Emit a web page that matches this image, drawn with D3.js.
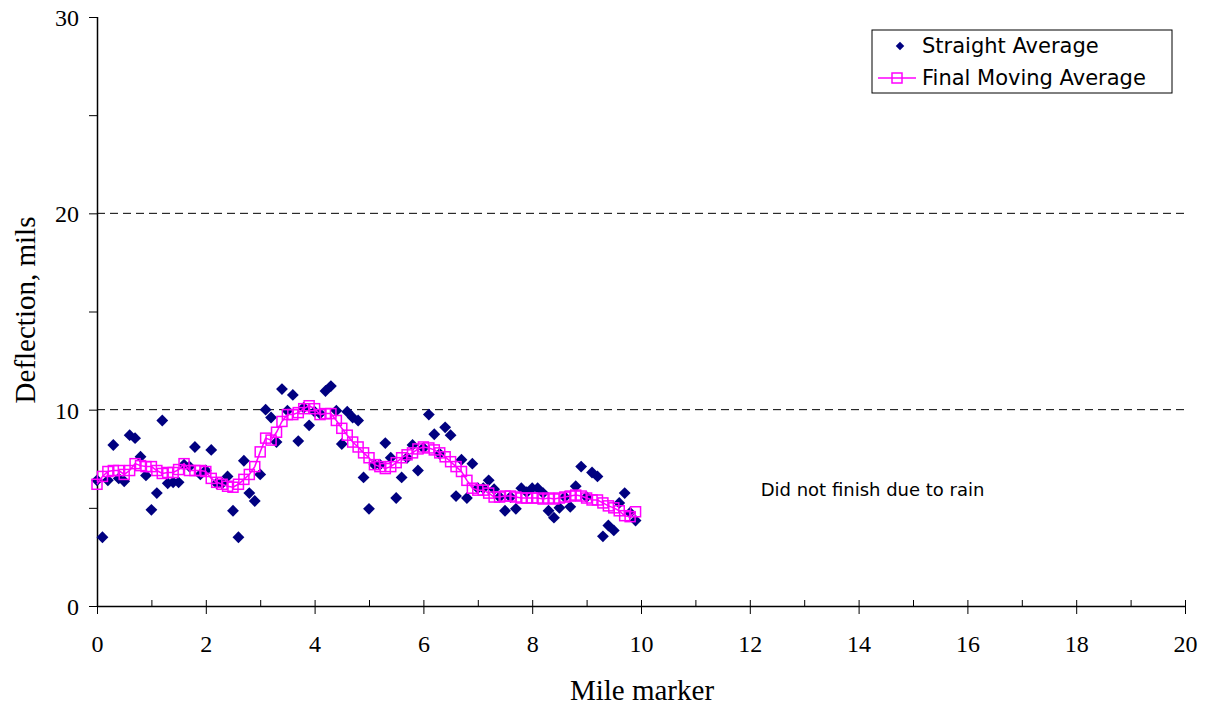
<!DOCTYPE html>
<html>
<head>
<meta charset="utf-8">
<script src="https://cdn.jsdelivr.net/npm/d3@7"></script>
<style>
  body { margin: 0; background: #fff; }
  .tick text { font-family: "Liberation Serif", "Times New Roman", serif; }
</style>
</head>
<body>
<div id="chart"></div>
<script>
// mile markers, every 0.1 mile from 0.0 to 9.9
var miles = d3.range(0, 100).map(function(i) { return i / 10; });

// deflection readings (mils)
var straightAverage = [
  6.4, 3.5, 6.4, 8.2, 6.5, 6.35, 8.7, 8.55, 7.6, 6.65,
  4.9, 5.75, 9.45, 6.25, 6.3, 6.3, 7.2, 7.1, 8.1, 6.7,
  6.9, 7.95, 6.25, 6.25, 6.6, 4.85, 3.5, 7.4, 5.75, 5.35,
  6.7, 10.0, 9.6, 8.35, 11.05, 9.95, 10.75, 8.4, 10.1, 9.2,
  9.9, 9.8, 10.95, 11.2, 9.95, 8.25, 9.9, 9.6, 9.45, 6.55,
  4.95, 7.2, 7.2, 8.3, 7.55, 5.5, 6.55, 7.55, 8.2, 6.9,
  8.05, 9.75, 8.75, 7.75, 9.1, 8.7, 5.6, 7.45, 5.5, 7.25,
  6.0, 6.0, 6.4, 5.95, 5.55, 4.85, 5.55, 4.95, 6.0, 5.8,
  6.0, 6.0, 5.75, 4.85, 4.5, 5.0, 5.55, 5.05, 6.1, 7.1,
  5.55, 6.8, 6.6, 3.55, 4.1, 3.85, 5.25, 5.75, 4.75, 4.35
];

var finalMovingAverage = [
  6.2, 6.6, 6.85, 6.9, 6.9, 6.7, 6.9, 7.25, 7.15, 7.1,
  7.1, 6.9, 6.75, 6.8, 6.8, 6.95, 7.25, 6.9, 6.9, 6.9,
  6.85, 6.5, 6.3, 6.2, 6.1, 6.05, 6.2, 6.45, 6.7, 7.1,
  7.85, 8.55, 8.45, 8.85, 9.4, 9.75, 9.75, 9.85, 10.05, 10.2,
  10.05, 9.75, 9.8, 9.8, 9.45, 9.05, 8.7, 8.35, 8.1, 7.8,
  7.55, 7.2, 7.1, 7.0, 7.1, 7.3, 7.55, 7.7, 7.8, 8.0,
  8.1, 8.05, 7.95, 7.8, 7.6, 7.35, 7.1, 6.85, 6.4, 6.0,
  5.9, 5.9, 5.75, 5.55, 5.55, 5.6, 5.6, 5.55, 5.5, 5.5,
  5.5, 5.5, 5.45, 5.5, 5.45, 5.5, 5.55, 5.6, 5.65, 5.6,
  5.5, 5.4, 5.4, 5.25, 5.1, 5.0, 4.85, 4.6, 4.55, 4.8
];

var xTicks = [0, 2, 4, 6, 8, 10, 12, 14, 16, 18, 20];
var yTicks = [0, 10, 20, 30];
var seriesNames = ["Straight Average", "Final Moving Average"];

var margin = {top: 17, right: 28, bottom: 102, left: 97},
    width = 1213 - margin.left - margin.right,
    height = 708 - margin.top - margin.bottom;

var svg = d3.select("#chart").append("svg")
    .attr("width", 1213)
    .attr("height", 708)
  .append("g")
    .attr("transform", "translate(" + margin.left + "," + margin.top + ")");

var x = d3.scaleLinear().domain([0, 20]).range([0, width]);
var y = d3.scaleLinear().domain([0, 30]).range([height, 0]);

// dashed gridlines
svg.append("g")
  .selectAll("line")
  .data([10, 20])
  .enter().append("line")
    .attr("x1", 0).attr("x2", width)
    .attr("y1", function(d) { return y(d); })
    .attr("y2", function(d) { return y(d); })
    .attr("stroke", "#000")
    .attr("stroke-width", 1)
    .attr("stroke-dasharray", "8,5");

// minor ticks (x inside, y outside)
svg.append("g")
    .attr("transform", "translate(0," + height + ")")
    .call(d3.axisTop(x).tickValues(d3.range(1, 20, 2)).tickSize(6).tickFormat(""))
    .call(function(g) { g.select(".domain").remove(); });
svg.append("g")
    .call(d3.axisLeft(y).tickValues([5, 15, 25]).tickSize(8).tickFormat(""))
    .call(function(g) { g.select(".domain").remove(); });

// x axis, major ticks cross the axis line
svg.append("g")
    .attr("transform", "translate(0," + height + ")")
    .call(d3.axisBottom(x).tickValues(xTicks).tickSize(8).tickPadding(21).tickFormat(d3.format("d")))
    .call(function(g) {
      g.select(".domain").attr("stroke-width", 1.5).attr("d", "M0,0.5H" + width);
      g.selectAll(".tick line").attr("y1", -6);
      g.selectAll("text").attr("font-size", "24px").attr("fill", "#000");
    });

// y axis
svg.append("g")
    .call(d3.axisLeft(y).tickValues(yTicks).tickSize(8).tickPadding(10).tickFormat(d3.format("d")))
    .call(function(g) {
      g.select(".domain").attr("stroke-width", 1.5).attr("d", "M0.5,0V" + height);
      g.selectAll("text").attr("font-size", "24px").attr("fill", "#000").attr("dy", "0.35em");
    });

// axis titles
svg.append("text")
    .attr("x", 545)
    .attr("y", height + 94)
    .attr("text-anchor", "middle")
    .style("font-family", "'Liberation Serif', 'Times New Roman', serif")
    .style("font-size", "29px")
    .text("Mile marker");

svg.append("text")
    .attr("transform", "translate(-62,293) rotate(-90)")
    .attr("text-anchor", "middle")
    .style("font-family", "'Liberation Serif', 'Times New Roman', serif")
    .style("font-size", "29px")
    .text("Deflection, mils");

// straight average diamonds
var diamond = d3.symbol().type(d3.symbolSquare).size(70);
svg.append("g")
  .selectAll("path")
  .data(straightAverage)
  .enter().append("path")
    .attr("d", diamond)
    .attr("transform", function(d, i) { return "translate(" + x(miles[i]) + "," + y(d) + ") rotate(45)"; })
    .attr("fill", "#000080");

// final moving average line + hollow squares
var line = d3.line()
    .x(function(d, i) { return x(miles[i]); })
    .y(function(d) { return y(d); });

svg.append("path")
    .datum(finalMovingAverage)
    .attr("d", line)
    .attr("fill", "none")
    .attr("stroke", "#ff00ff")
    .attr("stroke-width", 1.5);

svg.append("g")
  .selectAll("rect")
  .data(finalMovingAverage)
  .enter().append("rect")
    .attr("x", function(d, i) { return x(miles[i]) - 5; })
    .attr("y", function(d) { return y(d) - 5; })
    .attr("width", 10)
    .attr("height", 10)
    .attr("fill", "none")
    .attr("stroke", "#ff00ff")
    .attr("stroke-width", 1.5);

// annotation
svg.append("text")
    .attr("x", x(12.2))
    .attr("y", y(5.6))
    .style("font-family", "'DejaVu Sans', sans-serif")
    .style("font-size", "18px")
    .text("Did not finish due to rain");

// legend
var legend = svg.append("g").attr("transform", "translate(" + (872 - margin.left) + "," + (30 - margin.top) + ")");
legend.append("rect")
    .attr("width", 300).attr("height", 63)
    .attr("fill", "#fff").attr("stroke", "#000").attr("stroke-width", 1);

legend.append("path")
    .attr("d", d3.symbol().type(d3.symbolSquare).size(36))
    .attr("transform", "translate(28,16) rotate(45)")
    .attr("fill", "#000080");
legend.append("line")
    .attr("x1", 6).attr("x2", 44).attr("y1", 48).attr("y2", 48)
    .attr("stroke", "#ff00ff").attr("stroke-width", 1.5);
legend.append("rect")
    .attr("x", 20).attr("y", 43).attr("width", 10).attr("height", 10)
    .attr("fill", "none").attr("stroke", "#ff00ff").attr("stroke-width", 1.5);

legend.selectAll("text.lbl")
  .data(seriesNames)
  .enter().append("text")
    .attr("class", "lbl")
    .attr("x", 50)
    .attr("y", function(d, i) { return 16 + i * 32; })
    .attr("dy", "0.35em")
    .style("font-family", "'DejaVu Sans', sans-serif")
    .style("font-size", "21px")
    .text(function(d) { return d; });
</script>
</body>
</html>
